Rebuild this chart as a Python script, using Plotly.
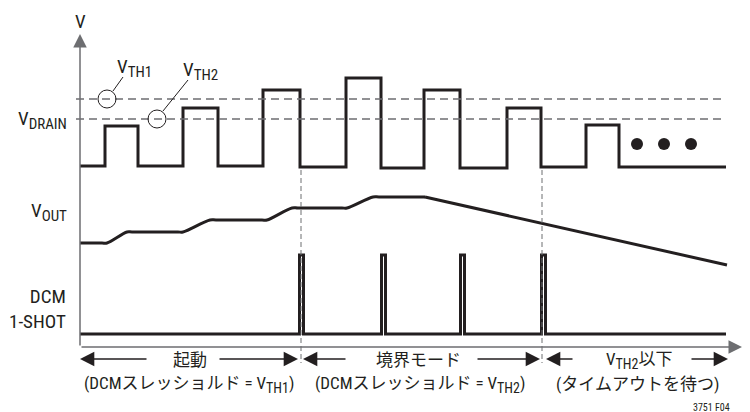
import plotly.graph_objects as go

# Time base (arbitrary units) and signal levels for the timing diagram
drain_t = [0, 25, 58, 103, 138, 183, 220, 266, 301, 344, 380, 427, 461, 506, 539, 646]
drain_v = [181, 221, 181, 239, 181, 257, 180, 269, 179, 257, 179, 239, 180, 222, 180, 180]

vout_t = [0, 22, 27, 47, 52, 98, 103, 130, 136, 182, 187, 212, 218, 262, 267, 293, 299, 345]
vout_v = [104, 104, 104, 115, 115, 115, 115, 127, 127, 127, 127, 139, 139, 139, 139, 150, 150, 150]
vout_tail_t = [345, 647]
vout_tail_v = [150, 82]

dcm_t = [0, 219.5, 223.5, 301.5, 305.5, 380.5, 384.5, 461.5, 465.5, 646]
dcm_v = [13, 92, 13, 92, 13, 92, 13, 92, 13, 13]

VTH1 = 248
VTH2 = 228
mode_edges = [221, 462]
dots_t = [557, 584, 611]
dots_v = [203, 203, 203]

INK = "#231f20"
GREY = "#6d6e71"
FONT = "Liberation Sans Narrow, Arial Narrow, Roboto Condensed, Noto Sans CJK JP, sans-serif"

fig = go.Figure()

fig.add_trace(go.Scatter(x=drain_t, y=drain_v, mode="lines", line=dict(color=INK, width=3, shape="hv")))
fig.add_trace(go.Scatter(x=vout_t, y=vout_v, mode="lines",
                         line=dict(color=INK, width=3, shape="spline", smoothing=1)))
fig.add_trace(go.Scatter(x=vout_tail_t, y=vout_tail_v, mode="lines", line=dict(color=INK, width=3)))
fig.add_trace(go.Scatter(x=dcm_t, y=dcm_v, mode="lines", line=dict(color=INK, width=3, shape="hv")))
fig.add_trace(go.Scatter(x=dots_t, y=dots_v, mode="markers", marker=dict(color=INK, size=12)))

shapes = []
# threshold levels
for v in (VTH1, VTH2):
    shapes.append(dict(type="line", xref="x", yref="y", x0=-4, x1=642, y0=v, y1=v,
                       line=dict(color=GREY, width=1.3, dash="8px,5px")))
# mode boundaries
for t in mode_edges:
    shapes.append(dict(type="line", xref="x", yref="y", x0=t, x1=t, y0=177, y1=-16,
                       line=dict(color=GREY, width=1, dash="5px,3px")))
# threshold call-out circles and leaders
shapes.append(dict(type="circle", xref="x", yref="y", x0=27 - 9, x1=27 + 9, y0=VTH1 - 9, y1=VTH1 + 9,
                   line=dict(color=INK, width=1)))
shapes.append(dict(type="circle", xref="x", yref="y", x0=77 - 9, x1=77 + 9, y0=VTH2 - 9, y1=VTH2 + 9,
                   line=dict(color=INK, width=1)))
shapes.append(dict(type="line", xref="x", yref="y", x0=33, y0=256, x1=43, y1=270, line=dict(color=INK, width=1)))
shapes.append(dict(type="line", xref="x", yref="y", x0=83, y0=236, x1=108, y1=267, line=dict(color=INK, width=1)))

ann = []


def arrow(x_head, y_head, x_tail, y_tail, color=INK, width=1.3, size=2.2):
    ann.append(dict(x=x_head, y=y_head, ax=x_tail, ay=y_tail, xref="x", yref="y", axref="x", ayref="y",
                    text="", showarrow=True, arrowhead=2, arrowsize=size, arrowwidth=width, arrowcolor=color))


def label(x, y, text, size=18, xanchor="center", align="center"):
    ann.append(dict(x=x, y=y, xref="x", yref="y", text=text, showarrow=False, xanchor=xanchor,
                    yanchor="middle", align=align, font=dict(family=FONT, size=size, color=INK)))


# axes
arrow(0, 313, 0, 0, color=GREY, width=1.5, size=1.8)
arrow(662, 0, 0, 0, color=GREY, width=1.5, size=1.8)

SUB = '<sub><span style="font-size:15px">{}</span></sub>'
label(0, 326, "V", size=19)
label(-11, 227, "V" + SUB.format("DRAIN"), size=19, xanchor="right")
label(-11, 135, "V" + SUB.format("OUT"), size=19, xanchor="right")
label(-12, 38, "DCM<br>1-SHOT", size=19, xanchor="right", align="right")
label(54, 279, "V" + SUB.format("TH1"), size=19)
label(120, 276, "V" + SUB.format("TH2"), size=19)

# mode spans along the time axis
ROW1, ROW2 = -12, -37
arrow(0, ROW1, 68, ROW1)
arrow(218, ROW1, 138, ROW1)
label(110, ROW1 - 1, "起動", size=17)
arrow(223, ROW1, 267, ROW1)
arrow(460, ROW1, 396, ROW1)
label(338, ROW1 - 1, "境界モード", size=17)
arrow(466, ROW1, 494, ROW1)
arrow(648, ROW1, 610, ROW1)
label(559, ROW1 - 1, "V" + '<sub><span style="font-size:14px">TH2</span></sub>' + "以下", size=17)

SUB2 = '<sub><span style="font-size:14px">{}</span></sub>'
label(109, ROW2, "(DCMスレッショルド = V" + SUB2.format("TH1") + ")", size=17)
label(340, ROW2, "(DCMスレッショルド = V" + SUB2.format("TH2") + ")", size=17)
label(557, ROW2, "(タイムアウトを待つ)", size=17)

label(631, -60, "3751 F04", size=10)

fig.update_layout(
    width=750, height=412,
    margin=dict(l=0, r=0, t=0, b=0),
    paper_bgcolor="white", plot_bgcolor="white",
    showlegend=False,
    xaxis=dict(range=[-80, 670], visible=False, fixedrange=True),
    yaxis=dict(range=[-65, 347], visible=False, fixedrange=True),
    shapes=shapes, annotations=ann,
)

fig.write_html("out.html")
